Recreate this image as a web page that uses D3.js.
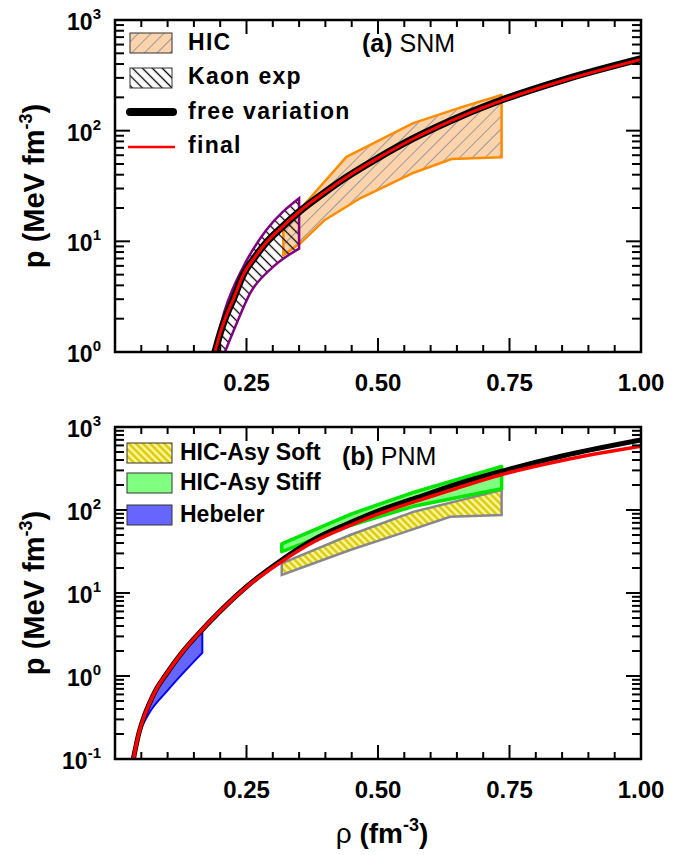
<!DOCTYPE html>
<html>
<head>
<meta charset="utf-8">
<script src="https://cdn.jsdelivr.net/npm/d3@7"></script>
<style>
body { margin: 0; background: #fff; }
text { font-family: "Liberation Sans", Arial, sans-serif; }
</style>
</head>
<body>
<div id="chart"></div>
<script>
// ---- panel (a) SNM ----
var snmRho   = [0.19, 0.2, 0.21, 0.225, 0.244, 0.265, 0.288, 0.32, 0.35, 0.4, 0.44, 0.5, 0.567, 0.662, 0.735, 0.859, 1.0];
var snmFree  = [1.0, 1.48, 2.04, 3.0, 5.0, 7.1, 9.8, 13.8, 18.5, 28, 38, 56.7, 85, 138, 189, 294, 447];
var snmFinal = [1.0, 1.48, 2.04, 3.0, 5.0, 7.1, 9.8, 13.8, 18.5, 28, 38, 56.5, 84.5, 137, 187, 290, 441];

// HIC flow constraint (closed polygon)
var hicRho = [0.32, 0.352, 0.44, 0.567, 0.662, 0.735, 0.735, 0.64, 0.564, 0.466, 0.399, 0.352, 0.32];
var hicP   = [13, 19.5, 58, 117, 165, 210, 57.4, 55.5, 41, 24.5, 15.6, 9.6, 7.5];

// Kaon production band
var kaonUpRho = [0.188, 0.209, 0.244, 0.288, 0.35];
var kaonUpP   = [1.0, 2.4, 5.9, 12.7, 24.5];
var kaonLoRho = [0.209, 0.231, 0.257, 0.301, 0.35];
var kaonLoP   = [1.0, 1.8, 3.4, 5.9, 8.6];

// ---- panel (b) PNM ----
var pnmRho   = [0.035, 0.045, 0.055, 0.065, 0.08, 0.095, 0.127, 0.16, 0.2, 0.25, 0.317, 0.38, 0.444, 0.5, 0.57, 0.65, 0.732, 0.85, 1.0];
var pnmFree  = [0.1, 0.2, 0.32, 0.46, 0.72, 1.0, 1.9, 3.3, 6.05, 11.9, 25, 44.7, 69, 97, 138, 205, 289, 447, 697];
var pnmFinal = [0.1, 0.2, 0.32, 0.46, 0.72, 1.0, 1.9, 3.3, 6.05, 11.8, 24, 42, 64, 89, 126, 183, 264, 395, 585];

var softRho  = [0.317, 0.447, 0.567, 0.735, 0.735, 0.637, 0.542, 0.447, 0.317];
var softP    = [22.8, 50, 95, 174, 87, 83, 52, 33, 16.5];
var stiffRho = [0.317, 0.45, 0.57, 0.735, 0.735, 0.57, 0.45, 0.317];
var stiffP   = [39, 90, 165, 335, 180, 112, 66, 31.5];

var hebUpRho = [0.032, 0.045, 0.065, 0.095, 0.127, 0.166];
var hebUpP   = [0.1, 0.2, 0.46, 1.0, 1.9, 3.5];
var hebLoRho = [0.032, 0.044, 0.063, 0.101, 0.166];
var hebLoP   = [0.1, 0.19, 0.34, 0.68, 1.9];

var xTickLabels = ["0.25", "0.50", "0.75", "1.00"];

var W = 696, H = 855;
var left = 115, right = 641;
var svg = d3.select("#chart").append("svg")
    .attr("width", W)
    .attr("height", H);

var x = d3.scaleLinear().domain([0, 1]).range([left, right]);
var yA = d3.scaleLog().domain([1, 1000]).range([352, 20]);
var yB = d3.scaleLog().domain([0.1, 1000]).range([759, 427]);

// patterns
var defs = svg.append("defs");
function hatch(id, size, angle, bg, col, sw) {
    var p = defs.append("pattern")
        .attr("id", id)
        .attr("patternUnits", "userSpaceOnUse")
        .attr("width", size).attr("height", size)
        .attr("patternTransform", "rotate(" + angle + ")");
    if (bg) p.append("rect").attr("width", size).attr("height", size).attr("fill", bg);
    p.append("line")
        .attr("x1", size / 2).attr("y1", 0)
        .attr("x2", size / 2).attr("y2", size)
        .attr("stroke", col).attr("stroke-width", sw);
}
hatch("hicHatch", 9, 45, "#fdd3ab", "#9a9a9a", 1);
hatch("kaonHatch", 7, -45, null, "#000", 1.3);
hatch("kaonHatchW", 7, -45, "#fff", "#000", 1.3);
hatch("softHatch", 5, -45, "#fff7a0", "#d8c800", 2.4);

function clip(id, y) {
    defs.append("clipPath").attr("id", id)
        .append("rect")
        .attr("x", left).attr("y", y.range()[1])
        .attr("width", right - left)
        .attr("height", y.range()[0] - y.range()[1]);
}
clip("clipA", yA);
clip("clipB", yB);

function poly(rho, p, y) {
    return d3.line()(rho.map(function(r, i) { return [x(r), y(p[i])]; })) + "Z";
}
function band(upR, upP, loR, loP, y) {
    var ln = d3.line().curve(d3.curveMonotoneX);
    var up = upR.map(function(r, i) { return [x(r), y(upP[i])]; });
    var lo = loR.map(function(r, i) { return [x(r), y(loP[i])]; }).reverse();
    return ln(up) + ln(lo).replace(/^M/, "L") + "Z";
}
function curve(rho, p, y) {
    return d3.line().curve(d3.curveMonotoneX)(rho.map(function(r, i) { return [x(r), y(p[i])]; }));
}

function frame(y) {
    var top = y.range()[1], bot = y.range()[0];
    var g = svg.append("g");
    // x ticks
    d3.range(1, 20).forEach(function(i) {
        var v = i * 0.05, len = (i % 5 == 0) ? 14 : 7;
        g.append("line").attr("x1", x(v)).attr("x2", x(v)).attr("y1", bot).attr("y2", bot - len)
            .attr("stroke", "#000").attr("stroke-width", 2);
        g.append("line").attr("x1", x(v)).attr("x2", x(v)).attr("y1", top).attr("y2", top + len)
            .attr("stroke", "#000").attr("stroke-width", 2);
    });
    // y ticks
    y.ticks().forEach(function(v) {
        var lg = Math.log10(v);
        var major = Math.abs(lg - Math.round(lg)) < 1e-6;
        var len = major ? 15 : 9;
        g.append("line").attr("x1", left).attr("x2", left + len).attr("y1", y(v)).attr("y2", y(v))
            .attr("stroke", "#000").attr("stroke-width", 2);
        g.append("line").attr("x1", right).attr("x2", right - len).attr("y1", y(v)).attr("y2", y(v))
            .attr("stroke", "#000").attr("stroke-width", 2);
        if (major) {
            var t = g.append("text").attr("x", 101).attr("y", y(v) + 10)
                .attr("text-anchor", "end").attr("font-size", 23).attr("font-weight", "bold");
            t.append("tspan").text("10");
            t.append("tspan").attr("dy", -11).attr("font-size", 15).text(Math.round(lg));
        }
    });
    g.append("rect").attr("x", left).attr("y", top)
        .attr("width", right - left).attr("height", bot - top)
        .attr("fill", "none").attr("stroke", "#000").attr("stroke-width", 2.5);
    // x tick labels
    xTickLabels.forEach(function(s) {
        g.append("text").attr("x", x(+s)).attr("y", bot + 39)
            .attr("text-anchor", "middle").attr("font-size", 24).attr("font-weight", "bold")
            .text(s);
    });
    // y title
    var yt = g.append("text")
        .attr("transform", "translate(44," + ((top + bot) / 2) + ") rotate(-90)")
        .attr("text-anchor", "middle").attr("font-size", 29).attr("font-weight", "bold");
    yt.append("tspan").text("p (MeV fm");
    yt.append("tspan").attr("dy", -12).attr("font-size", 18).text("-3");
    yt.append("tspan").attr("dy", 12).text(")");
}

// ---------- panel (a) ----------
var pa = svg.append("g").attr("clip-path", "url(#clipA)");
pa.append("path").attr("d", poly(hicRho, hicP, yA))
    .attr("fill", "url(#hicHatch)").attr("stroke", "#ff8c00").attr("stroke-width", 2.5)
    .attr("stroke-linejoin", "round");
pa.append("path").attr("d", band(kaonUpRho, kaonUpP, kaonLoRho, kaonLoP, yA))
    .attr("fill", "url(#kaonHatch)").attr("stroke", "#800080").attr("stroke-width", 2.5);
pa.append("path").attr("d", curve(snmRho, snmFree, yA))
    .attr("fill", "none").attr("stroke", "#000").attr("stroke-width", 7);
pa.append("path").attr("d", curve(snmRho, snmFinal, yA))
    .attr("fill", "none").attr("stroke", "#ff0000").attr("stroke-width", 3);
frame(yA);

var la = svg.append("g").attr("font-size", 23).attr("font-weight", "bold");
la.append("rect").attr("x", 130).attr("y", 33).attr("width", 42).attr("height", 20)
    .attr("fill", "url(#hicHatch)").attr("stroke", "#333").attr("stroke-width", 1);
la.append("rect").attr("x", 130).attr("y", 68).attr("width", 42).attr("height", 20)
    .attr("fill", "url(#kaonHatchW)").attr("stroke", "#333").attr("stroke-width", 1);
la.append("line").attr("x1", 130).attr("x2", 173).attr("y1", 112).attr("y2", 112)
    .attr("stroke", "#000").attr("stroke-width", 8).attr("stroke-linecap", "round");
la.append("line").attr("x1", 128).attr("x2", 175).attr("y1", 147).attr("y2", 147)
    .attr("stroke", "#ff0000").attr("stroke-width", 2.5);
[["HIC", 50], ["Kaon exp", 84], ["free variation", 119], ["final", 153]].forEach(function(d) {
    la.append("text").attr("x", 188).attr("y", d[1]).attr("letter-spacing", 1.3).text(d[0]);
});
var ta = svg.append("text").attr("x", 362).attr("y", 52).attr("font-size", 25);
ta.append("tspan").attr("font-weight", "bold").text("(a)");
ta.append("tspan").text(" SNM");

// ---------- panel (b) ----------
var pb = svg.append("g").attr("clip-path", "url(#clipB)");
pb.append("path").attr("d", poly(softRho, softP, yB))
    .attr("fill", "url(#softHatch)").attr("stroke", "#888").attr("stroke-width", 2.5);
pb.append("path").attr("d", poly(stiffRho, stiffP, yB))
    .attr("fill", "#80ff80").attr("stroke", "#00e600").attr("stroke-width", 3.5)
    .attr("stroke-linejoin", "round");
pb.append("path").attr("d", band(hebUpRho, hebUpP, hebLoRho, hebLoP, yB))
    .attr("fill", "#6666ff").attr("stroke", "#0000ff").attr("stroke-width", 2);
pb.append("path").attr("d", curve(pnmRho, pnmFree, yB))
    .attr("fill", "none").attr("stroke", "#000").attr("stroke-width", 5);
pb.append("path").attr("d", curve(pnmRho, pnmFinal, yB))
    .attr("fill", "none").attr("stroke", "#ff0000").attr("stroke-width", 3.5);
frame(yB);

var lb = svg.append("g").attr("font-size", 23).attr("font-weight", "bold");
[["HIC-Asy Soft", 443, "url(#softHatch)"], ["HIC-Asy Stiff", 473, "#80ff80"], ["Hebeler", 505, "#6666ff"]]
.forEach(function(d) {
    lb.append("rect").attr("x", 127).attr("y", d[1]).attr("width", 45).attr("height", 20)
        .attr("fill", d[2]).attr("stroke", "#333").attr("stroke-width", 1);
    lb.append("text").attr("x", 180).attr("y", d[1] + 17).text(d[0]);
});
var tb = svg.append("text").attr("x", 342).attr("y", 465).attr("font-size", 25);
tb.append("tspan").attr("font-weight", "bold").text("(b)");
tb.append("tspan").text(" PNM");

// x title
var xt = svg.append("text").attr("x", 382).attr("y", 843)
    .attr("text-anchor", "middle").attr("font-size", 28);
xt.append("tspan").text("\u03c1 ");
xt.append("tspan").attr("font-weight", "bold").text("(fm");
xt.append("tspan").attr("font-weight", "bold").attr("dy", -12).attr("font-size", 18).text("-3");
xt.append("tspan").attr("font-weight", "bold").attr("dy", 12).text(")");
</script>
</body>
</html>
